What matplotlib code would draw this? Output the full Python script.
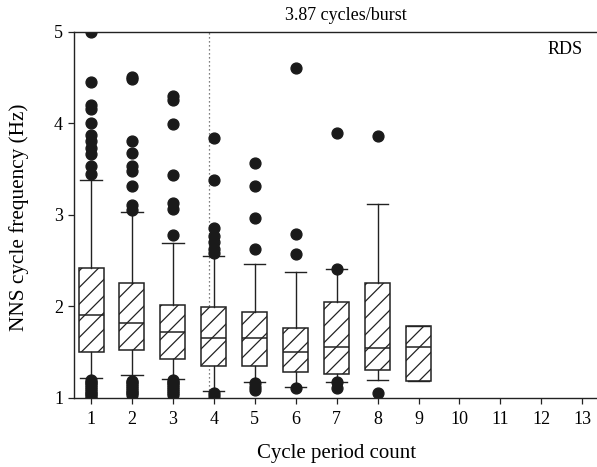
import matplotlib
matplotlib.use("Agg")
import matplotlib.pyplot as plt

plt.rcParams['font.family'] = ['Liberation Serif', 'DejaVu Serif']
plt.rcParams['hatch.linewidth'] = 0.9

categories = [1, 2, 3, 4, 5, 6, 7, 8, 9]
tick_labels = ["1", "2", "3", "4", "5", "6", "7", "8", "9", "10", "11", "12", "13"]
q1 = [1.50, 1.52, 1.43, 1.35, 1.35, 1.28, 1.26, 1.31, 1.19]
med = [1.91, 1.82, 1.72, 1.65, 1.65, 1.50, 1.56, 1.55, 1.56]
q3 = [2.42, 2.25, 2.02, 1.99, 1.94, 1.76, 2.05, 2.26, 1.79]
whislo = [1.22, 1.25, 1.21, 1.08, 1.17, 1.12, 1.18, 1.20, 1.19]
whishi = [3.38, 3.03, 2.69, 2.55, 2.46, 2.37, 2.41, 3.12, 1.79]
fliers = [
    [4.99, 4.45, 4.20, 4.15, 4.00, 3.87, 3.80, 3.73, 3.66, 3.53, 3.44,
     1.20, 1.18, 1.16, 1.14, 1.12, 1.10, 1.08, 1.06, 1.04, 1.02, 1.00],
    [4.50, 4.48, 3.81, 3.67, 3.53, 3.48, 3.31, 3.11, 3.05,
     1.19, 1.17, 1.15, 1.13, 1.11, 1.09, 1.07, 1.05, 1.03],
    [4.30, 4.25, 3.99, 3.43, 3.13, 3.06, 2.78,
     1.20, 1.18, 1.16, 1.14, 1.12, 1.10, 1.08, 1.06, 1.03],
    [3.84, 3.38, 2.85, 2.77, 2.70, 2.63, 2.58, 1.05, 1.02],
    [3.57, 3.31, 2.96, 2.63, 1.16, 1.12, 1.09],
    [4.60, 2.79, 2.57, 1.11],
    [3.89, 2.41, 1.18, 1.11],
    [3.86, 1.06],
    [],
]
mean_cycles = 3.87
title_text = "3.87 cycles/burst"
panel_label = "RDS"

fig = plt.figure(figsize=(5.97, 4.67), dpi=100)
ax = fig.add_axes([73.5 / 597, 1 - 398 / 467, 1 - 73.5 / 597, (398 - 31.5) / 467])

stats = []
for i in range(len(categories)):
    stats.append(dict(q1=q1[i], med=med[i], q3=q3[i], whislo=whislo[i],
                      whishi=whishi[i], fliers=fliers[i]))

ec = '#222222'
bp = ax.bxp(stats, positions=categories, widths=0.61, patch_artist=True,
            showfliers=True,
            boxprops=dict(facecolor='white', edgecolor=ec, linewidth=1.1, hatch='//'),
            medianprops=dict(color=ec, linewidth=1.1),
            whiskerprops=dict(color=ec, linewidth=1.0),
            capprops=dict(color=ec, linewidth=1.0),
            flierprops=dict(marker='o', markerfacecolor='#1a1a1a', markeredgecolor='#1a1a1a',
                            markersize=7.8, linestyle='none'),
            capwidths=0.52)

ax.axvline(mean_cycles, color='#555555', linestyle=(0, (1, 2.2)), linewidth=0.9, zorder=0)

ax.set_xlim(0.572, 13.36)
ax.set_ylim(1, 5)
ax.set_xticks(range(1, 14))
ax.set_xticklabels(tick_labels)
ax.set_yticks([1, 2, 3, 4, 5])
ax.tick_params(axis='both', direction='out', length=4, width=0.9, labelsize=13, color='#222222')
ax.tick_params(axis='x', pad=5)
ax.spines['right'].set_visible(False)
for s in ['left', 'bottom', 'top']:
    ax.spines[s].set_linewidth(1.0)
    ax.spines[s].set_color('#222222')

ax.set_xlabel("Cycle period count", fontsize=15)
ax.xaxis.set_label_coords((337 - 73.5) / 523.5, -(444 - 398) / 366.5)
ax.set_ylabel("NNS cycle frequency (Hz)", fontsize=15.3)
ax.yaxis.set_label_coords(-(73.5 - 29) / 523.5, (398 - 217) / 366.5)
ax.text(0.52, 1.045, title_text, transform=ax.transAxes, ha='center', va='center', fontsize=13)
ax.text(0.972, 0.952, panel_label, transform=ax.transAxes, ha='right', va='center', fontsize=13)

fig.savefig("out.png", dpi=100)
